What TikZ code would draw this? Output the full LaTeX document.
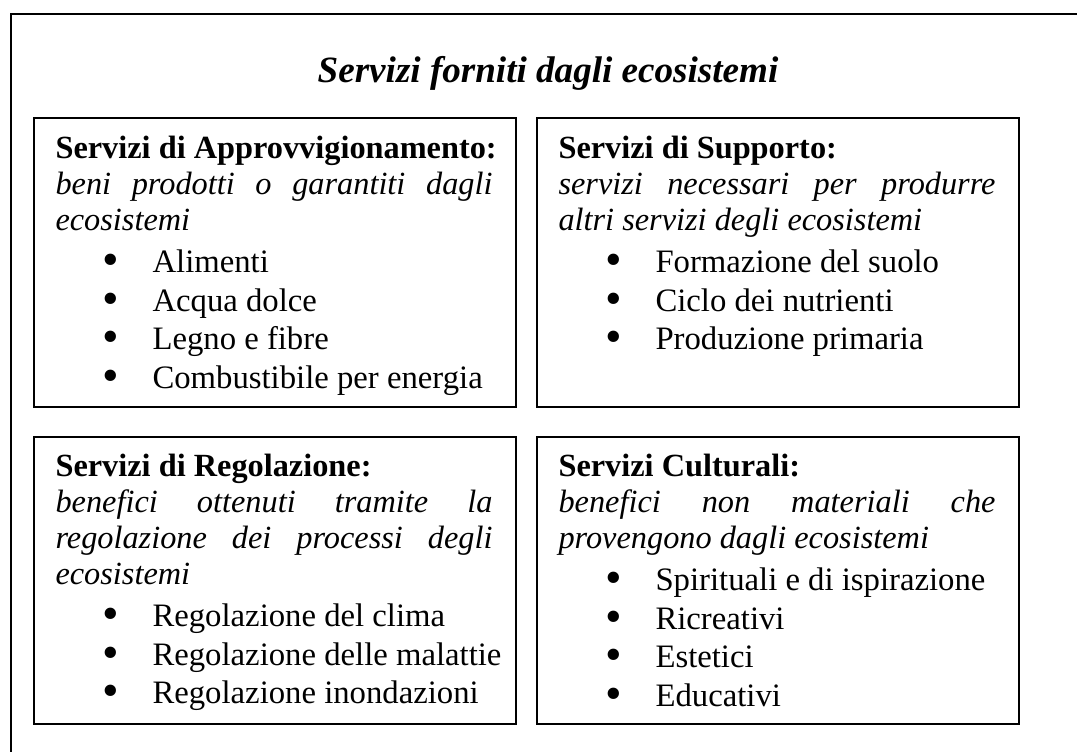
\documentclass[tikz,border=0pt]{standalone}
\usepackage{fontspec}
\setmainfont{Liberation Serif}
\usepackage{graphicx}
\usepackage{tikz}
\usetikzlibrary{positioning, calc}
\newlength{\pxu}
\setlength{\pxu}{0.3774pt}
\tikzstyle{frame} = [draw, line width=2\pxu]
\tikzstyle{svbox} = [rectangle, draw, line width=2\pxu, anchor=north west, inner sep=0pt, outer sep=0pt, minimum width=482\pxu, minimum height=289\pxu]
\tikzstyle{svtext} = [anchor=base west, inner sep=0pt, font=\fontsize{12.2}{13.6}\selectfont]
\tikzstyle{title} = [anchor=base, inner sep=0pt, font=\fontsize{14}{16}\selectfont\bfseries\itshape]
\newcommand{\svdot}{\smash{\raisebox{-3\pxu}{\scalebox{1.45}{\textbullet}}}}
\newcommand{\svitem}[1]{\par\noindent\hspace*{47\pxu}\makebox[50\pxu][l]{\svdot}\mbox{#1}}
\newcommand{\svbody}[3]{\parbox[t]{437\pxu}{\hyphenpenalty=10000 \baselineskip=36\pxu
  \mbox{\textbf{#1}}\par
  \textit{#2}\par
  \fontsize{12.35}{14}\selectfont\baselineskip=38.5\pxu \vspace{4\pxu}#3}}

\begin{document}
\begin{tikzpicture}[x=1\pxu, y=-1\pxu]
        \clip (0,0) rectangle (1077,751);
        \draw[frame] (11,14) rectangle (1100,790);

        % Nodes
        \node (title) [title] at (548,82) {Servizi forniti dagli ecosistemi};

        \node (approv) [svbox] at (34,118) {};
        \node (supporto) [svbox, right=21\pxu of approv] {};
        \node (regol) [svbox, below=30\pxu of approv, minimum height=287\pxu] {};
        \node (cultura) [svbox, right=21\pxu of regol, minimum height=287\pxu] {};

        % Testi
        \node (approvtxt) [svtext] at ($(approv.north west)+(21,40)$) {\svbody{Servizi di Approvvigionamento:}
          {beni prodotti o garantiti dagli\linebreak ecosistemi}
          {\svitem{Alimenti}\svitem{Acqua dolce}\svitem{Legno e fibre}\svitem{Combustibile per energia}}};
        \node (supportotxt) [svtext] at ($(supporto.north west)+(21,40)$) {\svbody{Servizi di Supporto:}
          {servizi necessari per produrre\linebreak altri servizi degli ecosistemi}
          {\svitem{Formazione del suolo}\svitem{Ciclo dei nutrienti}\svitem{Produzione primaria}}};
        \node (regoltxt) [svtext] at ($(regol.north west)+(21,39)$) {\svbody{Servizi di Regolazione:}
          {benefici ottenuti tramite la\linebreak regolazione dei processi degli\linebreak ecosistemi}
          {\svitem{Regolazione del clima}\svitem{Regolazione delle malattie}\svitem{Regolazione inondazioni}}};
        \node (culturatxt) [svtext] at ($(cultura.north west)+(21,39)$) {\svbody{Servizi Culturali:}
          {benefici non materiali che\linebreak provengono dagli ecosistemi}
          {\svitem{Spirituali e di ispirazione}\svitem{Ricreativi}\svitem{Estetici}\svitem{Educativi}}};

\end{tikzpicture}
\end{document}
